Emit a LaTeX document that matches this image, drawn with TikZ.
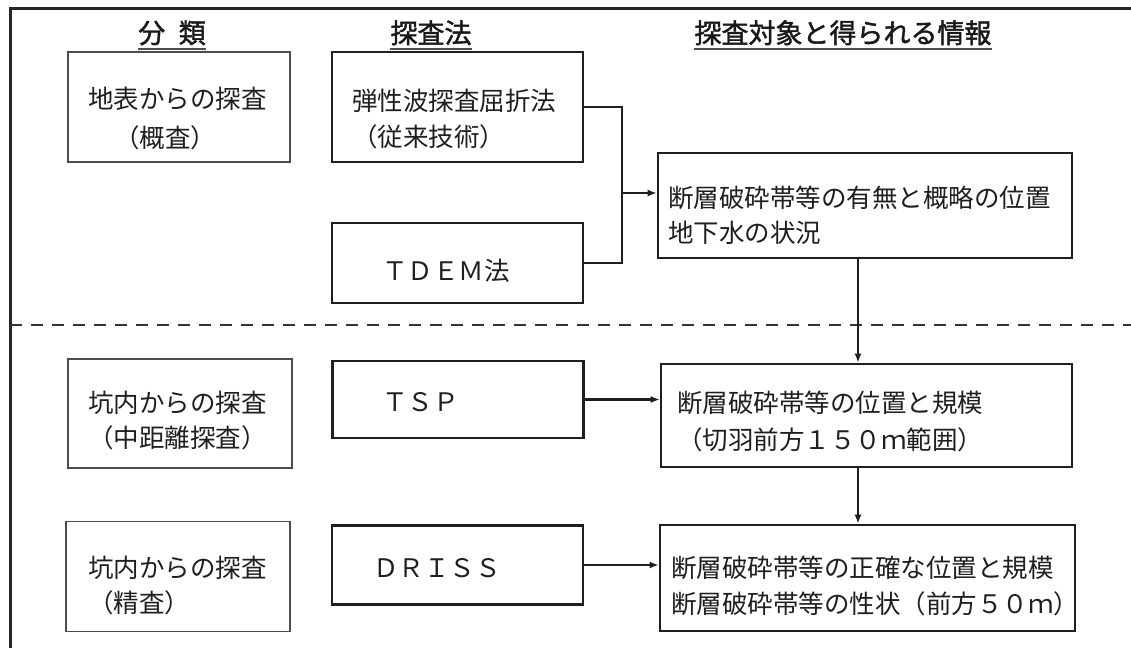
\documentclass[tikz,border=0pt]{standalone}
\usepackage{fontspec}
\newfontfamily\jp{Noto Sans CJK JP}
\newfontfamily\jpb[FakeBold=1.6]{Noto Sans CJK JP}
\usetikzlibrary{arrows.meta}
\begin{document}
\begin{tikzpicture}[x=1pt,y=-1pt,
  txt/.style={inner sep=0pt, anchor=base west, text=black!88, font=\jp\fontsize{25.5}{30}\selectfont},
  hdr/.style={inner sep=0pt, anchor=base, text=black!90, font=\jpb\fontsize{27}{32}\selectfont},
  uline/.style={line width=2pt, black!70},
  cbox/.style={draw=black!70, line width=1.4pt, inner sep=0pt},
  mbox/.style={draw=black!88, line width=2.6pt, inner sep=0pt},
  conn/.style={draw=black!88, line width=2.6pt},
  arr/.style={conn, -{Latex[length=9pt,width=7pt]}},
  frame/.style={draw=black!85, line width=3pt},
  sep/.style={draw=black!80, line width=1.5pt, dash pattern=on 12pt off 9pt}
]
\useasboundingbox[fill=white] (0,0) rectangle (1131,648);

% frame and separator
\coordinate (fbl) at (10,648);
\coordinate (ftl) at (10,8);
\coordinate (ftr) at (1131,8);
\draw[frame] (fbl) -- (ftl) -- (ftr);
\coordinate (sl) at (10,325);
\coordinate (sr) at (1131,325);
\draw[sep] (sl) -- (sr);

% headers
\node[hdr] (h1) at (172,43) {分\hspace{0.5em}類};
\node[hdr] (h2) at (431,43) {探査法};
\node[hdr] (h3) at (843,43) {探査対象と得られる情報};
\foreach \h in {h1,h2,h3}
  \draw[uline] ([yshift=-6pt]\h.base west) -- ([yshift=-6pt]\h.base east);

% classification boxes
\node[cbox, minimum width=222pt, minimum height=110pt] (C1) at (179,107) {};
\node[cbox, minimum width=224pt, minimum height=109pt] (C2) at (180,413.5) {};
\node[cbox, minimum width=224pt, minimum height=110pt] (C3) at (178,576.5) {};
\node[txt] (c1a) at (88,108) {地表からの探査};
\node[txt] (c1b) at (114,147) {（概査）};
\node[txt] (c2a) at (88,412) {坑内からの探査};
\node[txt] (c2b) at (88,447) {（中距離探査）};
\node[txt] (c3a) at (88,577) {坑内からの探査};
\node[txt] (c3b) at (88,612) {（精査）};

% method boxes
\node[mbox, minimum width=251pt, minimum height=110pt] (M1) at (457.5,107) {};
\node[mbox, minimum width=251pt, minimum height=80pt] (M2) at (457.5,263) {};
\node[mbox, minimum width=251pt, minimum height=77pt] (M3) at (458,399.5) {};
\node[mbox, minimum width=251pt, minimum height=79pt] (M4) at (457.5,565) {};
\node[txt] (m1a) at (352,110) {弾性波探査屈折法};
\node[txt] (m1b) at (352,146) {（従来技術）};
\node[txt] (m2a) at (382,280) {ＴＤＥＭ法};
\node[txt] (m3a) at (382,411) {ＴＳＰ};
\node[txt] (m4a) at (373,577) {ＤＲＩＳＳ};

% result boxes
\node[mbox, minimum width=414pt, minimum height=105pt] (R1) at (865,205.5) {};
\node[mbox, minimum width=411pt, minimum height=103pt] (R2) at (866.5,415.5) {};
\node[mbox, minimum width=415pt, minimum height=106pt] (R3) at (867.5,578) {};
\node[txt] (r1a) at (668,207) {断層破砕帯等の有無と概略の位置};
\node[txt] (r1b) at (668,242) {地下水の状況};
\node[txt] (r2a) at (677,412) {断層破砕帯等の位置と規模};
\node[txt] (r2b) at (677,449) {（切羽前方１５０ｍ範囲）};
\node[txt] (r3a) at (671,577) {断層破砕帯等の正確な位置と規模};
\node[txt] (r3b) at (671,613) {断層破砕帯等の性状（前方５０ｍ）};

% connectors
\coordinate (j) at (622,193);
\draw[conn] (M1.east) -| (j);
\draw[conn] (M2.east) -| (j);
\draw[arr] (j) -- (j -| R1.west);
\coordinate (vx) at (858,0);
\draw[arr] (R1.south -| vx) -- (R2.north -| vx);
\draw[arr] (R2.south -| vx) -- (R3.north -| vx);
\draw[arr] (M3.east) -- (M3.east -| R2.west);
\draw[arr] (M4.east) -- (M4.east -| R3.west);
\end{tikzpicture}
\end{document}
